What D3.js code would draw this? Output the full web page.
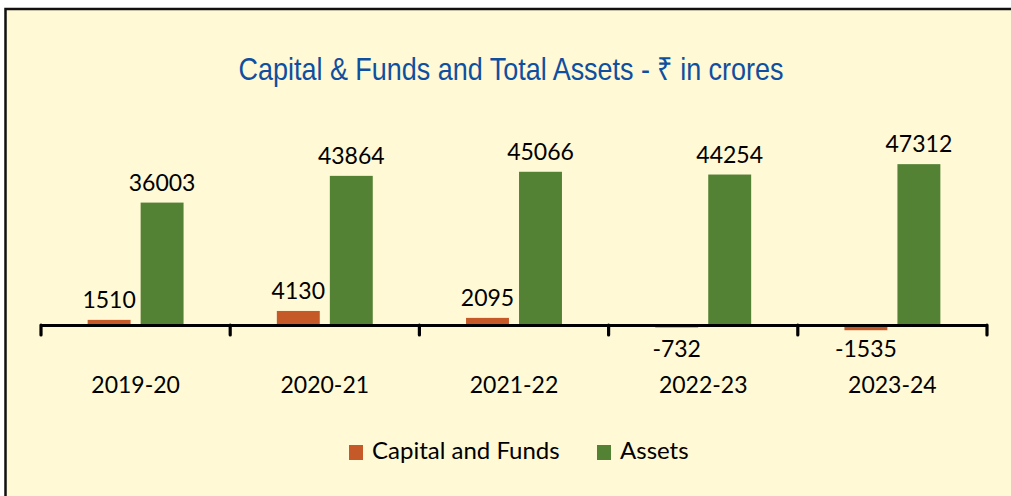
<!DOCTYPE html>
<html>
<head>
<meta charset="utf-8">
<script src="https://cdn.jsdelivr.net/npm/d3@7"></script>
<style>
  body { margin: 0; background: #fff; }
  svg { display: block; }
  .lbl { font-family: Lato, "Open Sans", sans-serif; font-size: 23px; fill: #000; }
</style>
</head>
<body>
<svg id="chart" width="1011" height="496"></svg>
<script>
const years = ['2019-20', '2020-21', '2021-22', '2022-23', '2023-24']
const capitalFunds = [1510, 4130, 2095, -732, -1535]
const assets = [36003, 43864, 45066, 44254, 47312]
const seriesNames = ['Capital and Funds', 'Assets']
const seriesColors = ['#C55A28', '#548235']

const svg = d3.select('#chart')

// panel: light yellow fill, dark frame on top and left (rest runs off the picture)
svg.append('rect')
  .attr('x', 5.5).attr('y', 9)
  .attr('width', 1020).attr('height', 500)
  .attr('fill', '#FFF9D6')
  .attr('stroke', '#111')
  .attr('stroke-width', 2.5)

// title is set in a narrow face in the original, squeeze it to the same width
svg.append('text')
  .attr('x', 511).attr('y', 80)
  .attr('text-anchor', 'middle')
  .attr('font-family', '"Liberation Sans", Arial, sans-serif')
  .attr('font-size', 32)
  .attr('textLength', 545)
  .attr('lengthAdjust', 'spacingAndGlyphs')
  .attr('fill', '#0F4FA0')
  .text('Capital & Funds and Total Assets - \u20B9 in crores')

const x = d3.scaleBand().domain(years).range([41, 987]).padding(0)
const x1 = d3.scaleBand().domain(seriesNames).range([0, x.bandwidth()])
  .paddingInner(0.19).paddingOuter(0.88)
const y = d3.scaleLinear().domain([-10000, 50000]).range([359, 155])

const rows = years.map((yr, i) => ({ year: yr, vals: [capitalFunds[i], assets[i]] }))

const groups = svg.append('g').selectAll('g')
  .data(rows).join('g')
  .attr('transform', d => `translate(${x(d.year)},0)`)

const bars = groups.selectAll('g.bar')
  .data(d => d.vals.map((v, k) => ({ v, k })))
  .join('g').attr('class', 'bar')

bars.append('rect')
  .attr('x', d => x1(seriesNames[d.k]))
  .attr('width', x1.bandwidth())
  .attr('y', d => Math.min(y(d.v), y(0)))
  .attr('height', d => Math.abs(y(d.v) - y(0)))
  .attr('fill', d => seriesColors[d.k])

bars.append('text')
  .attr('class', 'lbl')
  .attr('text-anchor', 'middle')
  .attr('x', d => x1(seriesNames[d.k]) + x1.bandwidth() / 2)
  .attr('y', d => d.v >= 0 ? y(d.v) - 12 : y(0) + 32)
  .text(d => d.v)

// category axis along zero, ticks on band boundaries
const axis = svg.append('g').attr('transform', `translate(0,${y(0)})`)
  .call(d3.axisBottom(x).tickSize(0).tickFormat(''))
axis.select('.domain').attr('stroke', '#000').attr('stroke-width', 3.2)
const bounds = years.map(d => x(d)).concat([x.range()[1]])
axis.selectAll('line.bound')
  .data(bounds).join('line').attr('class', 'bound')
  .attr('x1', d => d).attr('x2', d => d)
  .attr('y1', 0).attr('y2', 10)
  .attr('stroke', '#000').attr('stroke-width', 3.2)
  .attr('stroke-linecap', 'round')

svg.append('g').selectAll('text')
  .data(years).join('text')
  .attr('class', 'lbl')
  .attr('text-anchor', 'middle')
  .attr('x', d => x(d) + x.bandwidth() / 2)
  .attr('y', 393)
  .text(d => d)

// legend
const legendX = [349, 597]
const legend = svg.append('g').selectAll('g')
  .data(seriesNames).join('g')
  .attr('transform', (d, i) => `translate(${legendX[i]},445)`)
legend.append('rect')
  .attr('width', 14).attr('height', 15)
  .attr('fill', (d, i) => seriesColors[i])
legend.append('text')
  .attr('class', 'lbl')
  .style('font-size', '24px')
  .attr('x', 23).attr('y', 14)
  .text(d => d)
</script>
</body>
</html>
